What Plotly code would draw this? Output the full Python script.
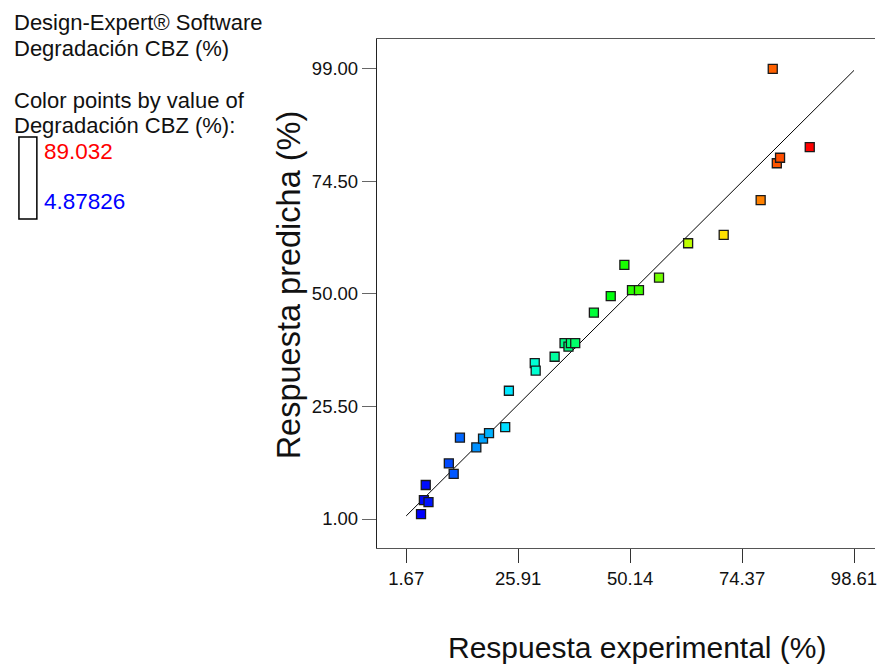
import plotly.graph_objects as go

# ---- data ----
actual = [4.88, 5.5, 6.5, 5.9, 10.9, 11.95, 13.3, 16.85, 18.3, 19.6, 23.1, 23.9,
          29.5, 29.7, 33.8, 35.95, 36.8, 37.33, 38.26, 42.3, 45.95, 48.9, 50.55,
          52.06, 56.4, 62.7, 70.4, 78.4, 81.02, 81.9, 82.6, 89.03]
predicted = [2.04, 5.1, 4.65, 8.4, 13.1, 10.8, 18.7, 16.6, 18.5, 19.7, 21.0, 28.9,
             34.9, 33.3, 36.3, 39.25, 38.5, 39.25, 39.25, 45.9, 49.5, 56.3, 50.8,
             50.8, 53.5, 61.0, 62.8, 70.4, 98.93, 78.4, 79.6, 81.9]
color_min = 4.87826
color_max = 89.032
x_ticks = [1.67, 25.91, 50.14, 74.37, 98.61]
x_tick_labels = ["1.67", "25.91", "50.14", "74.37", "98.61"]
y_ticks = [1.00, 25.50, 50.00, 74.50, 99.00]
y_tick_labels = ["1.00", "25.50", "50.00", "74.50", "99.00"]
ref_line = [1.67, 98.61]

W, H = 877, 665
L, R, T = 377, 0, 39
B = H - 548
PW, PH = W - L - R, H - T - B

def px(x):
    return (x - L) / PW

def py(y):
    return (H - B - y) / PH

FONT = "Liberation Sans, Arial, sans-serif"

fig = go.Figure()
fig.add_trace(go.Scatter(x=ref_line, y=ref_line, mode="lines",
                         line=dict(color="black", width=1), hoverinfo="skip"))
fig.add_trace(go.Scatter(
    x=actual, y=predicted, mode="markers",
    marker=dict(symbol="square", size=9, color=actual, cmin=color_min, cmax=color_max,
                colorscale=[[0, "rgb(0,0,255)"], [0.25, "rgb(0,255,255)"],
                            [0.5, "rgb(0,255,0)"], [0.75, "rgb(255,255,0)"],
                            [1, "rgb(255,0,0)"]],
                line=dict(color="#1a1a1a", width=1.3), showscale=False)))

fig.update_layout(
    width=W, height=H, showlegend=False,
    margin=dict(l=L, r=R, t=T, b=B, pad=0),
    paper_bgcolor="white", plot_bgcolor="white",
    font=dict(family=FONT, color="#111", size=18.5),
    xaxis=dict(range=[-4.65, -4.65 + PW / 4.638], tickvals=x_ticks, ticktext=x_tick_labels,
               showgrid=False, zeroline=False, showline=True, mirror=True,
               linecolor="#555", linewidth=1.3, ticks="outside", ticklen=14,
               tickcolor="#333", tickwidth=1, ticklabeloverflow="allow",
               tickfont=dict(size=18.5, family=FONT)),
    yaxis=dict(range=[-5.31, -5.31 + PH / 4.596], tickvals=y_ticks, ticktext=y_tick_labels,
               showgrid=False, zeroline=False, showline=True, mirror=False,
               linecolor="#222", linewidth=1.3, ticks="outside", ticklen=14,
               tickcolor="#666", tickwidth=1, tickfont=dict(size=18.5, family=FONT)),
)

ann = []
def add_text(text, x, y, size, color="#111", xanchor="left", angle=0):
    ann.append(dict(text=text, x=px(x), y=py(y), xref="paper", yref="paper",
                    xanchor=xanchor, yanchor="middle", showarrow=False, textangle=angle,
                    font=dict(family=FONT, size=size, color=color)))

add_text("Design-Expert® Software", 11, 23, 22)
add_text("Degradación CBZ (%)", 11, 48, 22)
add_text("Color points by value of", 11, 101, 22)
add_text("Degradación CBZ (%):", 11, 125, 22)
add_text("89.032", 41, 151, 22.5, color="red")
add_text("4.87826", 41, 201, 22.5, color="blue")
add_text("Respuesta experimental (%)", 639, 647, 30, xanchor="center")
add_text("Respuesta predicha (%)", 289, 285, 32.5, xanchor="center", angle=-90)
fig.update_layout(annotations=ann)

fig.add_shape(type="rect", xref="paper", yref="paper",
              x0=px(17.5), x1=px(35.5), y0=py(137), y1=py(219),
              line=dict(color="black", width=1.5), fillcolor="white")

fig.write_html(
    "out.html",
    config={"displayModeBar": False},
    post_script=("document.body.style.margin='0';"
                 "document.body.style.overflow='hidden';"
                 "document.documentElement.style.overflow='hidden';"),
)
